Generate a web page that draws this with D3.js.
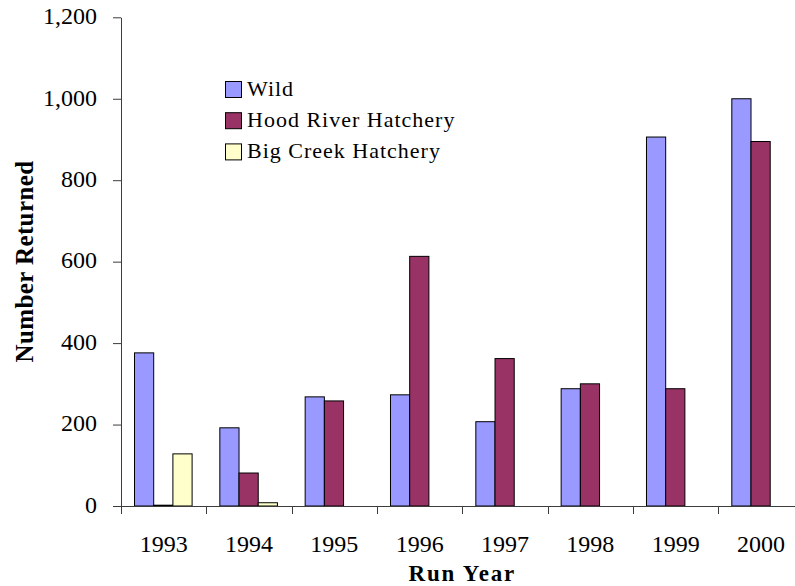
<!DOCTYPE html>
<html>
<head>
<meta charset="utf-8">
<script src="https://cdn.jsdelivr.net/npm/d3@7"></script>
<style>
  body { margin: 0; background: #fff; }
  text { font-family: "Liberation Serif", "Times New Roman", serif; fill: #000; }
</style>
</head>
<body>
<div id="chart"></div>
<script>
// Data
const years = ["1993", "1994", "1995", "1996", "1997", "1998", "1999", "2000"];
const seriesNames = ["Wild", "Hood River Hatchery", "Big Creek Hatchery"];
const wild = [376, 192, 268, 273, 207, 288, 906, 1000];
const hoodRiver = [2, 81, 258, 613, 362, 300, 288, 895];
const bigCreek = [128, 8, 0, 0, 0, 0, 0, 0];
const yTicks = [0, 200, 400, 600, 800, 1000, 1200];
const colors = ["#9999FF", "#993366", "#FFFFCC"];

const W = 795, H = 586;
const plotLeft = 121, plotBottom = 506, plotTop = 17.3;
const bandW = 85.33;

const svg = d3.select("#chart").append("svg")
  .attr("width", W)
  .attr("height", H);

// Scales
const x = d3.scaleBand()
  .domain(years)
  .range([plotLeft, plotLeft + bandW * years.length]);

const xSub = d3.scaleBand()
  .domain(seriesNames)
  .range([13.5, 71.1]);

const y = d3.scaleLinear()
  .domain([0, 1200])
  .range([plotBottom, plotTop]);

const color = d3.scaleOrdinal().domain(seriesNames).range(colors);

const rows = years.map((yr, i) => ({
  year: yr,
  values: [
    { name: seriesNames[0], value: wild[i] },
    { name: seriesNames[1], value: hoodRiver[i] },
    { name: seriesNames[2], value: bigCreek[i] }
  ].filter(d => d.value > 0)
}));

// Bars
const groups = svg.append("g")
  .selectAll("g")
  .data(rows)
  .enter()
  .append("g")
  .attr("transform", d => `translate(${x(d.year)},0)`);

groups.selectAll("rect")
  .data(d => d.values)
  .enter()
  .append("rect")
  .attr("x", d => xSub(d.name))
  .attr("y", d => y(d.value))
  .attr("width", xSub.bandwidth())
  .attr("height", d => y(0) - y(d.value))
  .attr("fill", d => color(d.name))
  .attr("stroke", "#000")
  .attr("stroke-width", 1);

// Y axis
const yAxis = svg.append("g")
  .attr("transform", `translate(${plotLeft},0)`)
  .call(d3.axisLeft(y).tickValues(yTicks).tickFormat(d3.format(",")).tickSize(8).tickSizeOuter(0).tickPadding(16));

yAxis.select(".domain").attr("stroke", "#3c3c3c");
yAxis.selectAll(".tick line").attr("stroke", "#3c3c3c");
yAxis.selectAll(".tick text")
  .attr("dy", "0.26em")
  .style("font-size", "24px")
  .style("font-family", "'Liberation Serif', 'Times New Roman', serif")
  .attr("fill", "#000");

// X axis (labels at band centres)
const xAxis = svg.append("g")
  .attr("transform", `translate(0,${plotBottom})`)
  .call(d3.axisBottom(x).tickSize(0).tickSizeOuter(0).tickPadding(29));

xAxis.select(".domain").attr("stroke", "#3c3c3c");
xAxis.selectAll(".tick text")
  .style("font-size", "24px")
  .style("font-family", "'Liberation Serif', 'Times New Roman', serif")
  .attr("fill", "#000");

// X tick marks at band boundaries
const boundaries = years.map(d => x(d)).concat([x(years[years.length - 1]) + x.bandwidth()]);
xAxis.selectAll(".bound")
  .data(boundaries)
  .enter()
  .append("line")
  .attr("class", "bound")
  .attr("x1", d => Math.round(d) + 0.5)
  .attr("x2", d => Math.round(d) + 0.5)
  .attr("y1", 0)
  .attr("y2", 8)
  .attr("stroke", "#3c3c3c");

// Axis titles
svg.append("text")
  .attr("x", plotLeft + (bandW * years.length) / 2)
  .attr("y", 581)
  .attr("text-anchor", "middle")
  .style("font-size", "23px")
  .style("font-weight", "bold")
  .style("letter-spacing", "1.8px")
  .text("Run Year");

svg.append("text")
  .attr("transform", "translate(33,261.5) rotate(-90)")
  .attr("text-anchor", "middle")
  .style("font-size", "25px")
  .style("font-weight", "bold")
  .style("letter-spacing", "0.4px")
  .text("Number Returned");

// Legend
const legend = svg.append("g")
  .attr("transform", "translate(225,81)");

const item = legend.selectAll("g")
  .data(seriesNames)
  .enter()
  .append("g")
  .attr("transform", (d, i) => `translate(0,${i * 31.2})`);

item.append("rect")
  .attr("x", 0.5)
  .attr("y", 0.5)
  .attr("width", 16)
  .attr("height", 16)
  .attr("fill", d => color(d))
  .attr("stroke", "#000");

item.append("text")
  .attr("x", 22)
  .attr("y", 14.5)
  .style("font-size", "22px")
  .style("letter-spacing", "1px")
  .text(d => d);
</script>
</body>
</html>
